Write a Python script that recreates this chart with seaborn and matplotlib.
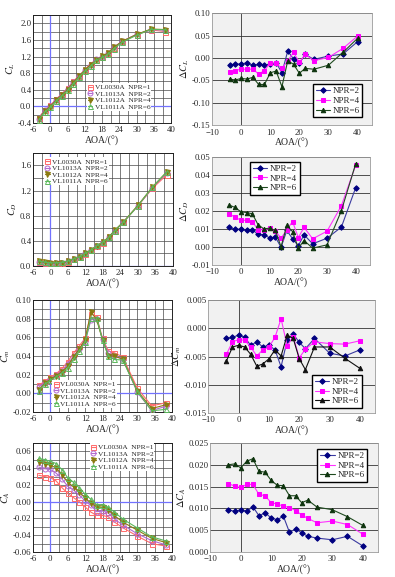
import numpy as np
import pandas as pd
import matplotlib
matplotlib.use("Agg")
import matplotlib.pyplot as plt
import seaborn as sns
from matplotlib.ticker import MultipleLocator, FormatStrFormatter

sns.set_style("white")
plt.rcParams['font.family'] = ['Liberation Serif', 'DejaVu Serif']
plt.rcParams['mathtext.fontset'] = 'stix'

# ---------------- data ----------------
aoa = [-4, -2, 0, 2, 4, 6, 8, 10, 12, 14, 16, 18, 20, 22, 25, 30, 35, 40]

left_labels = ["VL0030A  NPR=1", "VL1013A  NPR=2", "VL1012A  NPR=4", "VL1011A  NPR=6"]
right_labels = ["NPR=2", "NPR=4", "NPR=6"]

cl_npr1 = [-0.28, -0.09, 0.02, 0.17, 0.30, 0.44, 0.60, 0.74, 0.88, 1.03, 1.12, 1.19, 1.29, 1.41, 1.57, 1.73, 1.84, 1.80]
cl_npr2 = [-0.296, -0.10, 0.007, 0.16, 0.284, 0.426, 0.584, 0.726, 0.87, 0.997, 1.136, 1.188, 1.278, 1.418, 1.567, 1.734, 1.849, 1.837]
cl_npr4 = [-0.311, -0.118, -0.005, 0.145, 0.275, 0.404, 0.572, 0.73, 0.868, 1.007, 1.113, 1.203, 1.28, 1.418, 1.564, 1.732, 1.862, 1.849]
cl_npr6 = [-0.327, -0.139, -0.026, 0.123, 0.257, 0.381, 0.541, 0.707, 0.851, 0.966, 1.114, 1.176, 1.256, 1.387, 1.545, 1.714, 1.853, 1.844]

cd_npr1 = [0.060, 0.040, 0.032, 0.033, 0.040, 0.068, 0.105, 0.140, 0.195, 0.255, 0.315, 0.370, 0.455, 0.555, 0.695, 0.955, 1.235, 1.455]
cd_npr2 = [0.071, 0.050, 0.042, 0.042, 0.050, 0.075, 0.112, 0.145, 0.200, 0.255, 0.324, 0.375, 0.456, 0.562, 0.697, 0.960, 1.246, 1.488]
cd_npr4 = [0.078, 0.056, 0.047, 0.048, 0.054, 0.078, 0.115, 0.150, 0.204, 0.260, 0.325, 0.384, 0.460, 0.566, 0.700, 0.964, 1.258, 1.501]
cd_npr6 = [0.083, 0.062, 0.052, 0.052, 0.058, 0.080, 0.115, 0.150, 0.204, 0.255, 0.327, 0.379, 0.454, 0.559, 0.694, 0.956, 1.255, 1.501]

cm_npr1 = [0.0084, 0.013, 0.017, 0.021, 0.0265, 0.034, 0.043, 0.051, 0.059, 0.0855, 0.082, 0.059, 0.0455, 0.0436, 0.039, 0.0055, -0.0135, -0.010]
cm_npr2 = [0.0066, 0.0114, 0.0158, 0.0194, 0.0235, 0.0316, 0.0397, 0.048, 0.0552, 0.0787, 0.0799, 0.058, 0.043, 0.040, 0.0372, 0.0011, -0.0184, -0.0138]
cm_npr4 = [0.0038, 0.0106, 0.015, 0.0189, 0.0232, 0.0291, 0.0392, 0.0477, 0.0574, 0.0872, 0.0789, 0.0575, 0.0403, 0.0399, 0.0366, 0.0028, -0.0163, -0.0122]
cm_npr6 = [0.0026, 0.0097, 0.014, 0.0177, 0.0219, 0.0273, 0.0367, 0.0456, 0.0552, 0.0806, 0.0808, 0.0572, 0.0401, 0.0363, 0.0357, 0.0022, -0.0188, -0.0171]

ca_npr1 = [0.0315, 0.030, 0.0287, 0.0247, 0.0167, 0.010, 0.0048, 0.0, -0.0064, -0.0124, -0.0164, -0.0164, -0.018, -0.024, -0.031, -0.041, -0.050, -0.053]
ca_npr2 = [0.0412, 0.0393, 0.0384, 0.034, 0.0271, 0.0183, 0.0138, 0.0078, 0.001, -0.0042, -0.0119, -0.0111, -0.0136, -0.0204, -0.0278, -0.0382, -0.0464, -0.0516]
ca_npr4 = [0.0472, 0.0451, 0.0435, 0.0402, 0.0322, 0.0232, 0.0177, 0.0113, 0.0046, -0.0019, -0.0062, -0.0069, -0.0095, -0.0163, -0.0243, -0.0339, -0.0437, -0.0489]
ca_npr6 = [0.0515, 0.0502, 0.048, 0.0455, 0.0381, 0.0285, 0.0231, 0.0164, 0.0089, 0.0028, -0.0035, -0.0035, -0.0067, -0.0121, -0.0207, -0.0313, -0.0419, -0.0469]

dcl_npr2 = [-0.0157, -0.0134, -0.0134, -0.0104, -0.0164, -0.014, -0.0164, -0.014, -0.0104, -0.033, 0.0157, -0.0022, -0.012, 0.0082, -0.003, 0.0045, 0.009, 0.0366]
dcl_npr4 = [-0.0306, -0.028, -0.0246, -0.0254, -0.0246, -0.0358, -0.028, -0.0104, -0.012, -0.023, -0.0067, 0.0127, -0.0097, 0.0082, -0.006, 0.0015, 0.0216, 0.049]
dcl_npr6 = [-0.047, -0.049, -0.0455, -0.047, -0.043, -0.059, -0.059, -0.033, -0.029, -0.064, -0.006, -0.014, -0.034, -0.023, -0.025, -0.016, 0.0127, 0.044]

dcd_npr2 = [0.0108, 0.0098, 0.0098, 0.0091, 0.0095, 0.0069, 0.0067, 0.005, 0.0054, -0.0002, 0.0091, 0.0045, 0.0006, 0.0067, 0.0017, 0.0048, 0.011, 0.033]
dcd_npr4 = [0.0184, 0.0164, 0.0149, 0.0147, 0.014, 0.0095, 0.0095, 0.0104, 0.0089, 0.0048, 0.0095, 0.0141, 0.0052, 0.0108, 0.0045, 0.0087, 0.0229, 0.0455]
dcd_npr6 = [0.0232, 0.0219, 0.0195, 0.0191, 0.0184, 0.0123, 0.010, 0.0104, 0.0091, 0.0, 0.0119, 0.0085, -0.0007, 0.0035, -0.0007, 0.0011, 0.0201, 0.0463]

dcm_npr2 = [-0.0018, -0.0016, -0.0012, -0.0016, -0.003, -0.0024, -0.0033, -0.003, -0.0038, -0.0068, -0.0021, -0.001, -0.0025, -0.0036, -0.0018, -0.0044, -0.0049, -0.0038]
dcm_npr4 = [-0.0046, -0.0024, -0.002, -0.0021, -0.0033, -0.0049, -0.0038, -0.0033, -0.0016, 0.0017, -0.0031, -0.0015, -0.0052, -0.0037, -0.0024, -0.0027, -0.0028, -0.0022]
dcm_npr6 = [-0.0058, -0.0033, -0.003, -0.0033, -0.0046, -0.0067, -0.0063, -0.0054, -0.0038, -0.0049, -0.0012, -0.0018, -0.0054, -0.0073, -0.0033, -0.0033, -0.0053, -0.0071]

dca_npr2 = [0.0097, 0.0093, 0.0097, 0.0093, 0.0104, 0.0083, 0.009, 0.0078, 0.0074, 0.0082, 0.0045, 0.0053, 0.0044, 0.0036, 0.0032, 0.0028, 0.0036, 0.0014]
dca_npr4 = [0.0157, 0.0151, 0.0148, 0.0155, 0.0155, 0.0132, 0.0129, 0.0113, 0.011, 0.0105, 0.0102, 0.0095, 0.0085, 0.0077, 0.0067, 0.0071, 0.0063, 0.0041]
dca_npr6 = [0.020, 0.0202, 0.0193, 0.0208, 0.0214, 0.0185, 0.0183, 0.0164, 0.0153, 0.0152, 0.0129, 0.0129, 0.0113, 0.0119, 0.0103, 0.0097, 0.0081, 0.0061]

left_xticks = [-6, 0, 6, 12, 18, 24, 30, 36, 42]
left_xticklabels = ["-6", "0", "6", "12", "18", "24", "30", "36", "40"]
right_xticks = [-10, 0, 10, 20, 30, 40]

# ---------------- styles ----------------
left_styles = [
    dict(color="#ff6b6b", marker="s", mfc="none"),
    dict(color="#b36ad0", marker="o", mfc="none"),
    dict(color="#8a7a10", marker="v", mfc="#8a7a10"),
    dict(color="#5cb85c", marker="^", mfc="none"),
]
right_styles = [
    dict(color="#3a3aa0", mcolor="#000080", marker="D"),
    dict(color="#ff33ff", mcolor="#ff00ff", marker="s"),
    dict(color="#1f4a1f", mcolor="#0d330d", marker="^"),
]

fig = plt.figure(figsize=(3.95, 5.77), dpi=100)
FS = 6.0


def left_panel(rect, series, ylim, ymaj, ymin, fmt, ylabel, leg_loc, leg_anchor):
    ax = fig.add_axes(rect)
    ax.set_facecolor("white")
    for vals, lab, st in zip(series, left_labels, left_styles):
        sns.lineplot(x=aoa, y=vals, ax=ax, color=st["color"], marker=st["marker"],
                     markersize=3.6, markerfacecolor=st["mfc"], markeredgecolor=st["color"],
                     markeredgewidth=0.7, linewidth=0.8, label=lab, zorder=3)
    ax.set_xlim(-6, 42)
    ax.set_ylim(*ylim)
    ax.set_xticks(left_xticks)
    ax.set_xticklabels(left_xticklabels)
    ax.xaxis.set_minor_locator(MultipleLocator(3))
    ax.yaxis.set_major_locator(MultipleLocator(ymaj))
    ax.yaxis.set_minor_locator(MultipleLocator(ymin))
    ax.yaxis.set_major_formatter(FormatStrFormatter(fmt))
    ax.grid(which="both", color="#4a4a4a", linewidth=0.5, zorder=0)
    ax.axvline(0, color="#7272ff", linewidth=0.9, zorder=1)
    ax.axhline(0, color="#7272ff", linewidth=0.9, zorder=1)
    ax.tick_params(which="both", length=0, labelsize=FS + 0.3, pad=1.2)
    ax.tick_params(axis="x", pad=2.4)
    for s in ax.spines.values():
        s.set_color("#222222")
        s.set_linewidth(0.7)
    ax.set_xlabel("AOA/(°)", fontsize=FS + 1, labelpad=1)
    ax.set_ylabel(ylabel, fontsize=FS + 1.5, labelpad=0.5)
    leg = ax.legend(loc=leg_loc, bbox_to_anchor=leg_anchor, fontsize=5.3, frameon=True,
                    framealpha=1, facecolor="white", edgecolor="none", fancybox=False,
                    handlelength=0.6, handletextpad=0.3, labelspacing=0.05, borderpad=0.15,
                    borderaxespad=0)
    leg.set_zorder(5)
    return ax


def right_panel(rect, series, ylim, ymaj, fmt, ylabel, leg_loc, leg_anchor, dark6=None):
    ax = fig.add_axes(rect)
    ax.set_facecolor("#f1f1f1")
    for i, (vals, lab, st) in enumerate(zip(series, right_labels, right_styles)):
        col = st["color"]
        mcol = st["mcolor"]
        if i == 2 and dark6 is not None:
            col = dark6
            mcol = dark6
        sns.lineplot(x=aoa, y=vals, ax=ax, color=col, marker=st["marker"],
                     markersize=3.2 if st["marker"] != "D" else 2.8,
                     markerfacecolor=mcol, markeredgecolor=mcol,
                     linewidth=0.8, label=lab, zorder=3)
    ax.set_xlim(-10, 45)
    ax.set_ylim(*ylim)
    ax.set_xticks(right_xticks)
    ax.yaxis.set_major_locator(MultipleLocator(ymaj))
    ax.yaxis.set_major_formatter(FormatStrFormatter(fmt))
    ax.grid(axis="y", color="#333333", linewidth=0.6, zorder=0)
    ax.grid(axis="x", visible=False)
    ax.axvline(0, color="#333333", linewidth=0.6, zorder=1)
    ax.tick_params(which="both", length=0, labelsize=FS + 0.3, pad=1.2)
    ax.tick_params(axis="x", pad=2.4)
    for s in ax.spines.values():
        s.set_color("#9a9a9a")
        s.set_linewidth(0.6)
    ax.set_xlabel("AOA/(°)", fontsize=FS + 1, labelpad=1)
    ax.set_ylabel(ylabel, fontsize=FS + 1.5, labelpad=0.5)
    ax.legend(loc=leg_loc, bbox_to_anchor=leg_anchor, fontsize=FS + 0.5, frameon=True,
              framealpha=1, facecolor="white", edgecolor="black", fancybox=False,
              handlelength=1.6, handletextpad=0.3, labelspacing=0.15, borderpad=0.3,
              borderaxespad=0)
    return ax


# Row 1
left_panel([0.0835, 0.787, 0.350, 0.187], [cl_npr1, cl_npr2, cl_npr4, cl_npr6],
           (-0.4, 2.2), 0.4, 0.2, "%.1f", "$C_L$", "lower left", (0.39, 0.11))
right_panel([0.537, 0.783, 0.405, 0.194], [dcl_npr2, dcl_npr4, dcl_npr6],
            (-0.15, 0.10), 0.05, "%.2f", r"$\Delta C_L$", "lower right", (0.94, 0.07))
# Row 2
left_panel([0.0835, 0.539, 0.354, 0.196], [cd_npr1, cd_npr2, cd_npr4, cd_npr6],
           (0.0, 1.8), 0.4, 0.2, "%.1f", "$C_D$", "upper left", (0.08, 0.96))
right_panel([0.537, 0.541, 0.400, 0.187], [dcd_npr2, dcd_npr4, dcd_npr6],
            (-0.01, 0.05), 0.01, "%.2f", r"$\Delta C_D$", "upper left", (0.24, 0.955))
# Row 3
left_panel([0.0835, 0.286, 0.352, 0.194], [cm_npr1, cm_npr2, cm_npr4, cm_npr6],
           (-0.02, 0.10), 0.02, 0.01, "%.2f", "$C_m$", "lower left", (0.14, 0.035))
right_panel([0.527, 0.284, 0.423, 0.196], [dcm_npr2, dcm_npr4, dcm_npr6],
            (-0.015, 0.005), 0.005, "%.3f", r"$\Delta C_m$", "lower right", (0.92, 0.045),
            dark6="#111111")
# Row 4
left_panel([0.0835, 0.0433, 0.352, 0.189], [ca_npr1, ca_npr2, ca_npr4, ca_npr6],
           (-0.06, 0.07), 0.02, 0.01, "%.2f", "$C_A$", "upper left", (0.41, 1.0))
right_panel([0.532, 0.0433, 0.425, 0.189], [dca_npr2, dca_npr4, dca_npr6],
            (0.0, 0.025), 0.005, "%.3f", r"$\Delta C_A$", "upper right", (0.935, 0.945))

fig.savefig("out.png", dpi=100)
